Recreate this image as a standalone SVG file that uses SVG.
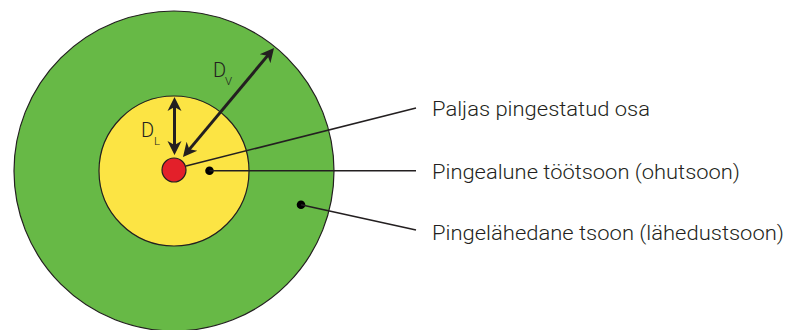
<svg xmlns="http://www.w3.org/2000/svg" width="789" height="330" viewBox="0 0 789 330">
<style>
.zone{stroke:#231f20;stroke-width:1.2}
.lead{stroke:#231f20;stroke-width:1.5;fill:none}
.dim{stroke:#231f20;stroke-width:3;fill:none;marker-start:url(#ah);marker-end:url(#ah)}
.dot{fill:#000}
.lbl{font-family:Roboto,"Liberation Sans",sans-serif;font-size:21px;font-weight:300;fill:#231f20}
.sym{font-family:Roboto,"Liberation Sans",sans-serif;font-size:20px;font-weight:300;fill:#231f20}
.sub{font-family:Roboto,"Liberation Sans",sans-serif;font-size:11.5px;font-weight:300;fill:#231f20}
</style>
<defs>
<marker id="ah" markerUnits="userSpaceOnUse" markerWidth="16" markerHeight="16" viewBox="0 -8 16 16" refX="6" refY="0" orient="auto-start-reverse">
<path d="M14,0 L0,-7 L4,0 L0,7 Z" fill="#231f20"/>
</marker>
</defs>
<g id="zone-proximity"><circle class="zone" cx="174" cy="171" r="160" fill="#67b946"/></g>
<g id="zone-live-working"><circle class="zone" cx="174" cy="171" r="75" fill="#fce444"/></g>
<g id="live-part"><circle class="zone" cx="174" cy="170" r="12" fill="#e3202a"/></g>
<g id="connectors">
<line class="dim" x1="174.5" y1="105" x2="174.5" y2="147"/>
<line class="dim" x1="268.9" y1="54.1" x2="188.1" y2="150.9"/>
<line class="lead" x1="186" y1="166" x2="416" y2="108"/>
<circle class="dot" cx="209.5" cy="170.7" r="4.3"/>
<line class="lead" x1="209.5" y1="170.7" x2="416" y2="170.7"/>
<circle class="dot" cx="301" cy="204.7" r="4.3"/>
<line class="lead" x1="301" y1="204.7" x2="416" y2="230"/>
</g>
<g id="dim-labels">
<text class="sym" x="213" y="77">D</text><text class="sub" x="225" y="85">V</text>
<text class="sym" x="141" y="137">D</text><text class="sub" x="154" y="145">L</text>
</g>
<g id="label-live-part"><text class="lbl" x="432" y="116" textLength="218" lengthAdjust="spacingAndGlyphs">Paljas pingestatud osa</text></g>
<g id="label-live-working"><text class="lbl" x="432" y="179" textLength="308" lengthAdjust="spacingAndGlyphs">Pingealune töötsoon (ohutsoon)</text></g>
<g id="label-proximity"><text class="lbl" x="432" y="240" textLength="352" lengthAdjust="spacingAndGlyphs">Pingelähedane tsoon (lähedustsoon)</text></g>
</svg>
